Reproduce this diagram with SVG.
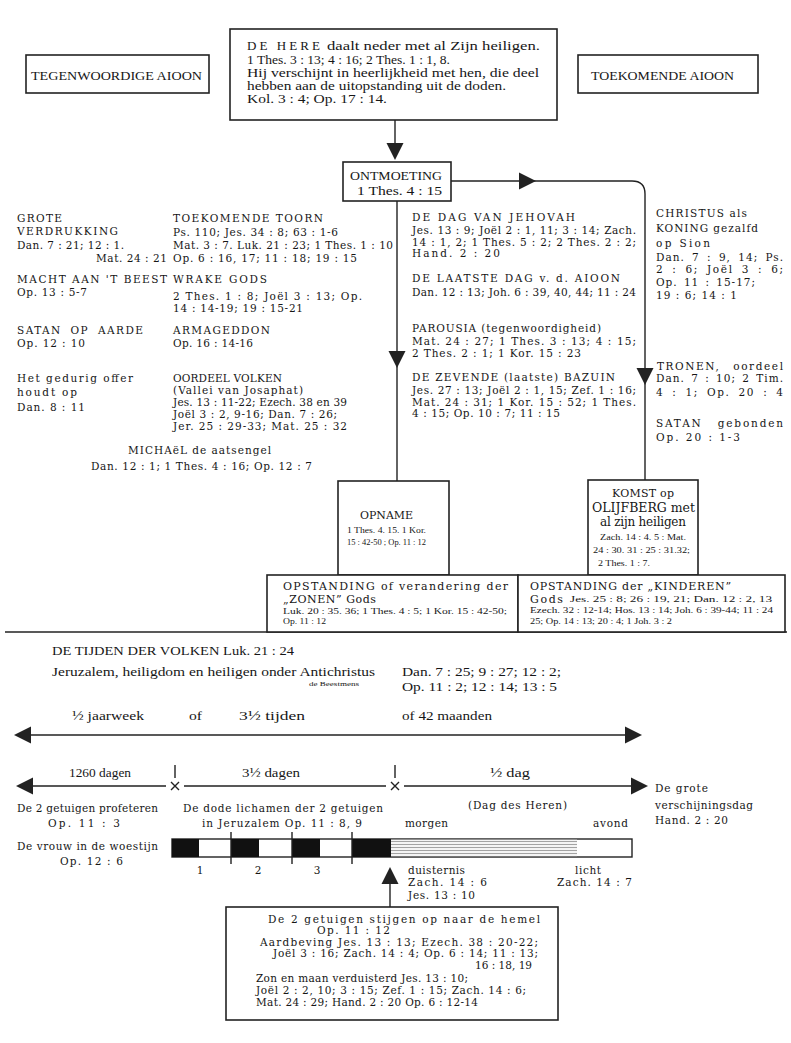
<svg xmlns="http://www.w3.org/2000/svg" xmlns:xlink="http://www.w3.org/1999/xlink" width="791" height="1043" viewBox="0 0 791 1043">
<defs>
<style>
.d{font-family:"DejaVu Serif","Liberation Serif",serif;font-size:10.5px;fill:#161616;dominant-baseline:central}
.r{font-family:"Liberation Serif","DejaVu Serif",serif;font-size:13px;fill:#161616;dominant-baseline:central}
.s{font-family:"Liberation Serif","DejaVu Serif",serif;font-size:8px;fill:#161616;dominant-baseline:central}
.l{font-family:"DejaVu Serif","Liberation Serif",serif;font-size:11px;fill:#161616;dominant-baseline:central}
.box{fill:#fff;stroke:#222;stroke-width:1.6}
.ln{fill:none;stroke:#222;stroke-width:1.4}
.ah{fill:#222}
.blk{fill:#111}
</style>
<path id="ar" d="M0,0 L-17,-8.5 L-17,8.5 Z"/>
<pattern id="hatch" width="8" height="3" patternUnits="userSpaceOnUse">
<rect width="8" height="3" fill="#f4f4f4"/>
<line x1="0" y1="1.5" x2="8" y2="1.5" stroke="#9a9a9a" stroke-width="0.9"/>
</pattern>
</defs>
<rect width="791" height="1043" fill="#fff"/>

<g id="connectors">
<path class="ln" d="M395,120 V158"/>
<use xlink:href="#ar" class="ah" transform="translate(395,160) rotate(90)"/>
<path class="ln" d="M451,181 H632 Q645,181 645,194 V480"/>
<use xlink:href="#ar" class="ah" transform="translate(536,181)"/>
<use xlink:href="#ar" class="ah" transform="translate(645,385) rotate(90)"/>
<path class="ln" d="M397,201 V481"/>
<use xlink:href="#ar" class="ah" transform="translate(397,368) rotate(90)"/>
<path class="ln" d="M5,632 H787"/>
<path class="ln" d="M390,907 V872"/>
<use xlink:href="#ar" class="ah" transform="translate(390,867) rotate(-90)"/>
</g>

<g id="box-tegenwoordige">
<rect class="box" x="26" y="55" width="183" height="38"/>
<text class="r" x="31" y="75" textLength="171" lengthAdjust="spacingAndGlyphs">TEGENWOORDIGE AIOON</text>
</g>
<g id="box-toekomende">
<rect class="box" x="578" y="55" width="180" height="38"/>
<text class="r" x="591" y="75" textLength="143" lengthAdjust="spacingAndGlyphs">TOEKOMENDE AIOON</text>
</g>
<g id="box-de-here">
<rect class="box" x="230" y="29" width="327" height="91"/>
<text class="r" x="247" y="45" textLength="73" lengthAdjust="spacing">DE HERE</text>
<text class="r" x="327" y="45" textLength="213" lengthAdjust="spacingAndGlyphs">daalt neder met al Zijn heiligen.</text>
<text class="r" x="247" y="59" textLength="203" lengthAdjust="spacingAndGlyphs">1 Thes. 3 : 13; 4 : 16; 2 Thes. 1 : 1, 8.</text>
<text class="r" x="247" y="72" textLength="292" lengthAdjust="spacingAndGlyphs">Hij verschijnt in heerlijkheid met hen, die deel</text>
<text class="r" x="247" y="85" textLength="259" lengthAdjust="spacingAndGlyphs">hebben aan de uitopstanding uit de doden.</text>
<text class="r" x="247" y="98" textLength="140" lengthAdjust="spacingAndGlyphs">Kol. 3 : 4; Op. 17 : 14.</text>
</g>
<g id="box-ontmoeting">
<rect class="box" x="343" y="162" width="108" height="39"/>
<text class="r" x="350" y="175" textLength="92" lengthAdjust="spacingAndGlyphs">ONTMOETING</text>
<text class="r" x="357" y="190" textLength="85" lengthAdjust="spacingAndGlyphs">1 Thes. 4 : 15</text>
</g>

<g id="grote-verdrukking">
<text class="d" x="17" y="218" textLength="45" lengthAdjust="spacing">GROTE</text>
<text class="d" x="17" y="231" textLength="101" lengthAdjust="spacing">VERDRUKKING</text>
<text class="d" x="17" y="245" textLength="107" lengthAdjust="spacing">Dan. 7 : 21; 12 : 1.</text>
<text class="d" x="96" y="258" textLength="71" lengthAdjust="spacing">Mat. 24 : 21</text>
</g>
<g id="macht-beest">
<text class="d" x="17" y="279" textLength="150" lengthAdjust="spacing">MACHT AAN 'T BEEST</text>
<text class="d" x="17" y="292" textLength="70" lengthAdjust="spacing">Op. 13 : 5-7</text>
</g>
<g id="satan-aarde">
<text class="d" x="17" y="330" textLength="126" lengthAdjust="spacing" style="word-spacing:4px">SATAN OP AARDE</text>
<text class="d" x="17" y="343" textLength="68" lengthAdjust="spacing">Op. 12 : 10</text>
</g>
<g id="gedurig-offer">
<text class="d" x="17" y="378" textLength="116" lengthAdjust="spacing">Het gedurig offer</text>
<text class="d" x="17" y="392" textLength="60" lengthAdjust="spacing">houdt op</text>
<text class="d" x="17" y="407" textLength="68" lengthAdjust="spacing">Dan. 8 : 11</text>
</g>

<g id="toekomende-toorn">
<text class="d" x="173" y="218" textLength="150" lengthAdjust="spacing">TOEKOMENDE TOORN</text>
<text class="d" x="173" y="232" textLength="165" lengthAdjust="spacing">Ps. 110; Jes. 34 : 8; 63 : 1-6</text>
<text class="d" x="173" y="245" textLength="220" lengthAdjust="spacing">Mat. 3 : 7. Luk. 21 : 23; 1 Thes. 1 : 10</text>
<text class="d" x="173" y="258" textLength="184" lengthAdjust="spacing">Op. 6 : 16, 17; 11 : 18; 19 : 15</text>
</g>
<g id="wrake-gods">
<text class="d" x="173" y="279" textLength="94" lengthAdjust="spacing">WRAKE GODS</text>
<text class="d" x="173" y="296" textLength="189" lengthAdjust="spacing">2 Thes. 1 : 8; Joël 3 : 13; Op.</text>
<text class="d" x="173" y="308" textLength="130" lengthAdjust="spacing">14 : 14-19; 19 : 15-21</text>
</g>
<g id="armageddon">
<text class="d" x="173" y="330" textLength="97" lengthAdjust="spacing">ARMAGEDDON</text>
<text class="d" x="173" y="343" textLength="80" lengthAdjust="spacing">Op. 16 : 14-16</text>
</g>
<g id="oordeel-volken">
<text class="d" x="173" y="378" textLength="109" lengthAdjust="spacing">OORDEEL VOLKEN</text>
<text class="d" x="173" y="390" textLength="130" lengthAdjust="spacing">(Vallei van Josaphat)</text>
<text class="d" x="173" y="402" textLength="174" lengthAdjust="spacing">Jes. 13 : 11-22; Ezech. 38 en 39</text>
<text class="d" x="173" y="414" textLength="164" lengthAdjust="spacing">Joël 3 : 2, 9-16; Dan. 7 : 26;</text>
<text class="d" x="173" y="426" textLength="174" lengthAdjust="spacing">Jer. 25 : 29-33; Mat. 25 : 32</text>
</g>
<g id="michael">
<text class="d" x="128" y="450" textLength="143" lengthAdjust="spacing">MICHAëL de aatsengel</text>
<text class="d" x="91" y="466" textLength="221" lengthAdjust="spacing">Dan. 12 : 1; 1 Thes. 4 : 16; Op. 12 : 7</text>
</g>

<g id="dag-jehovah">
<text class="d" x="412" y="217" textLength="163" lengthAdjust="spacing">DE DAG VAN JEHOVAH</text>
<text class="d" x="412" y="230" textLength="224" lengthAdjust="spacing">Jes. 13 : 9; Joël 2 : 1, 11; 3 : 14; Zach.</text>
<text class="d" x="412" y="242" textLength="224" lengthAdjust="spacing">14 : 1, 2; 1 Thes. 5 : 2; 2 Thes. 2 : 2;</text>
<text class="d" x="412" y="253" textLength="88" lengthAdjust="spacing">Hand. 2 : 20</text>
</g>
<g id="laatste-dag">
<text class="d" x="412" y="278" textLength="208" lengthAdjust="spacing">DE LAATSTE DAG v. d. AIOON</text>
<text class="d" x="412" y="292" textLength="224" lengthAdjust="spacing">Dan. 12 : 13; Joh. 6 : 39, 40, 44; 11 : 24</text>
</g>
<g id="parousia">
<text class="d" x="412" y="328" textLength="189" lengthAdjust="spacing">PAROUSIA (tegenwoordigheid)</text>
<text class="d" x="412" y="341" textLength="224" lengthAdjust="spacing">Mat. 24 : 27; 1 Thes. 3 : 13; 4 : 15;</text>
<text class="d" x="412" y="353" textLength="169" lengthAdjust="spacing">2 Thes. 2 : 1; 1 Kor. 15 : 23</text>
</g>
<g id="zevende-bazuin">
<text class="d" x="412" y="377" textLength="203" lengthAdjust="spacing">DE ZEVENDE (laatste) BAZUIN</text>
<text class="d" x="412" y="390" textLength="224" lengthAdjust="spacing">Jes. 27 : 13; Joël 2 : 1, 15; Zef. 1 : 16;</text>
<text class="d" x="412" y="402" textLength="224" lengthAdjust="spacing">Mat. 24 : 31; 1 Kor. 15 : 52; 1 Thes.</text>
<text class="d" x="412" y="413" textLength="148" lengthAdjust="spacing">4 : 15; Op. 10 : 7; 11 : 15</text>
</g>

<g id="christus-koning">
<text class="d" x="656" y="213" textLength="91" lengthAdjust="spacing">CHRISTUS als</text>
<text class="d" x="656" y="228" textLength="102" lengthAdjust="spacing">KONING gezalfd</text>
<text class="d" x="656" y="243" textLength="54" lengthAdjust="spacing">op Sion</text>
<text class="d" x="656" y="257" textLength="127" lengthAdjust="spacing" style="word-spacing:3px">Dan. 7 : 9, 14; Ps.</text>
<text class="d" x="656" y="269" textLength="127" lengthAdjust="spacing" style="word-spacing:3px">2 : 6; Joël 3 : 6;</text>
<text class="d" x="656" y="282" textLength="99" lengthAdjust="spacing" style="word-spacing:2px">Op. 11 : 15-17;</text>
<text class="d" x="656" y="295" textLength="81" lengthAdjust="spacing">19 : 6; 14 : 1</text>
</g>
<g id="tronen">
<text class="d" x="657" y="366" textLength="126" lengthAdjust="spacing" style="word-spacing:8px">TRONEN, oordeel</text>
<text class="d" x="656" y="378" textLength="127" lengthAdjust="spacing" style="word-spacing:2px">Dan. 7 : 10; 2 Tim.</text>
<text class="d" x="656" y="392" textLength="127" lengthAdjust="spacing" style="word-spacing:3px">4 : 1; Op. 20 : 4</text>
</g>
<g id="satan-gebonden">
<text class="d" x="656" y="423" textLength="127" lengthAdjust="spacing" style="word-spacing:10px">SATAN gebonden</text>
<text class="d" x="656" y="437" textLength="84" lengthAdjust="spacing">Op. 20 : 1-3</text>
</g>

<g id="box-opname">
<rect class="box" x="338" y="481" width="111" height="94"/>
<text class="l" x="360" y="515" textLength="53" lengthAdjust="spacingAndGlyphs">OPNAME</text>
<text class="s" x="347" y="530" textLength="79" lengthAdjust="spacingAndGlyphs">1 Thes. 4. 15. 1 Kor.</text>
<text class="s" x="347" y="542" textLength="79" lengthAdjust="spacingAndGlyphs">15 : 42-50 ; Op. 11 : 12</text>
</g>
<g id="box-komst">
<rect class="box" x="588" y="480" width="110" height="95"/>
<text class="l" x="612" y="493" textLength="62" lengthAdjust="spacing">KOMST op</text>
<text class="l" x="592" y="508" textLength="103" lengthAdjust="spacingAndGlyphs" style="font-size:12px">OLIJFBERG met</text>
<text class="l" x="600" y="522" textLength="86" lengthAdjust="spacing" style="font-size:12px">al zijn heiligen</text>
<text class="s" x="600" y="537" textLength="86" lengthAdjust="spacingAndGlyphs">Zach. 14 : 4. 5 : Mat.</text>
<text class="s" x="593" y="550" textLength="97" lengthAdjust="spacingAndGlyphs">24 : 30. 31 : 25 : 31.32;</text>
<text class="s" x="598" y="563" textLength="52" lengthAdjust="spacingAndGlyphs">2 Thes. 1 : 7.</text>
</g>
<g id="box-opstanding-zonen">
<rect class="box" x="267" y="575" width="251" height="57"/>
<text class="l" x="283" y="586" textLength="225" lengthAdjust="spacing">OPSTANDING of verandering der</text>
<text class="l" x="283" y="599" textLength="93" lengthAdjust="spacing">„ZONEN” Gods</text>
<text class="s" x="283" y="611" textLength="224" lengthAdjust="spacingAndGlyphs">Luk. 20 : 35. 36; 1 Thes. 4 : 5; 1 Kor. 15 : 42-50;</text>
<text class="s" x="283" y="621" textLength="43" lengthAdjust="spacingAndGlyphs">Op. 11 : 12</text>
</g>
<g id="box-opstanding-kinderen">
<rect class="box" x="518" y="575" width="267" height="57"/>
<text class="l" x="530" y="586" textLength="201" lengthAdjust="spacing">OPSTANDING der „KINDEREN”</text>
<text class="l" x="530" y="599" textLength="33" lengthAdjust="spacing">Gods</text>
<text class="s" x="570" y="599" textLength="202" lengthAdjust="spacingAndGlyphs">Jes. 25 : 8; 26 : 19, 21; Dan. 12 : 2, 13</text>
<text class="s" x="530" y="610" textLength="243" lengthAdjust="spacingAndGlyphs">Ezech. 32 : 12-14; Hos. 13 : 14; Joh. 6 : 39-44; 11 : 24</text>
<text class="s" x="530" y="621" textLength="142" lengthAdjust="spacingAndGlyphs">25; Op. 14 : 13; 20 : 4; 1 Joh. 3 : 2</text>
</g>

<g id="tijden-der-volken">
<text class="r" x="52" y="650" textLength="242" lengthAdjust="spacingAndGlyphs">DE TIJDEN DER VOLKEN  Luk. 21 : 24</text>
<text class="r" x="52" y="671" textLength="323" lengthAdjust="spacingAndGlyphs">Jeruzalem, heiligdom en heiligen onder Antichristus</text>
<text class="s" x="309" y="684" textLength="50" lengthAdjust="spacingAndGlyphs" style="font-size:7px">de Beestmens</text>
<text class="r" x="402" y="671" textLength="159" lengthAdjust="spacingAndGlyphs">Dan. 7 : 25; 9 : 27; 12 : 2;</text>
<text class="r" x="402" y="686" textLength="155" lengthAdjust="spacingAndGlyphs">Op. 11 : 2; 12 : 14; 13 : 5</text>
</g>

<g id="timeline-jaarweek">
<text class="r" x="72" y="715" textLength="72" lengthAdjust="spacingAndGlyphs">½ jaarweek</text>
<text class="r" x="189" y="715" textLength="13" lengthAdjust="spacingAndGlyphs">of</text>
<text class="r" x="239" y="715" textLength="66" lengthAdjust="spacingAndGlyphs">3½ tijden</text>
<text class="r" x="402" y="715" textLength="90" lengthAdjust="spacingAndGlyphs">of 42 maanden</text>
<path class="ln" d="M30,735 H626"/>
<use xlink:href="#ar" class="ah" transform="translate(14,735) rotate(180)"/>
<use xlink:href="#ar" class="ah" transform="translate(642,735)"/>
</g>

<g id="timeline-dagen">
<text class="r" x="69" y="772" textLength="62" lengthAdjust="spacingAndGlyphs">1260 dagen</text>
<text class="r" x="242" y="772" textLength="58" lengthAdjust="spacingAndGlyphs">3½ dagen</text>
<text class="r" x="490" y="772" textLength="40" lengthAdjust="spacingAndGlyphs">½ dag</text>
<path class="ln" d="M175,765 V778 M395,765 V778"/>
<path class="ln" d="M32,786 H166 M184,786 H386 M404,786 H634"/>
<path class="ln" d="M171,782 L179,790 M179,782 L171,790 M391,782 L399,790 M399,782 L391,790"/>
<use xlink:href="#ar" class="ah" transform="translate(16,786) rotate(180)"/>
<use xlink:href="#ar" class="ah" transform="translate(648,786)"/>
</g>

<g id="getuigen-profeteren">
<text class="d" x="17" y="808" textLength="141" lengthAdjust="spacing">De 2 getuigen profeteren</text>
<text class="d" x="48" y="823" textLength="72" lengthAdjust="spacing">Op. 11 : 3</text>
</g>
<g id="vrouw-woestijn">
<text class="d" x="17" y="846" textLength="141" lengthAdjust="spacing">De vrouw in de woestijn</text>
<text class="d" x="60" y="861" textLength="63" lengthAdjust="spacing">Op. 12 : 6</text>
</g>
<g id="dode-lichamen">
<text class="d" x="183" y="808" textLength="200" lengthAdjust="spacing">De dode lichamen der 2 getuigen</text>
<text class="d" x="202" y="823" textLength="160" lengthAdjust="spacing">in Jeruzalem Op. 11 : 8, 9</text>
</g>
<g id="dag-des-heren">
<text class="d" x="468" y="805" textLength="99" lengthAdjust="spacing">(Dag des Heren)</text>
<text class="d" x="405" y="823" textLength="43" lengthAdjust="spacing">morgen</text>
<text class="d" x="593" y="823" textLength="35" lengthAdjust="spacing">avond</text>
</g>
<g id="grote-verschijningsdag">
<text class="d" x="655" y="788" textLength="53" lengthAdjust="spacing">De grote</text>
<text class="d" x="655" y="805" textLength="98" lengthAdjust="spacing">verschijningsdag</text>
<text class="d" x="655" y="820" textLength="73" lengthAdjust="spacing">Hand. 2 : 20</text>
</g>

<g id="week-bar">
<rect x="172" y="839" width="460" height="18" fill="#fff" stroke="#222" stroke-width="1.4"/>
<rect x="391" y="839.7" width="186" height="16.6" fill="url(#hatch)"/>
<rect class="blk" x="172" y="839" width="27" height="18"/>
<rect class="blk" x="231" y="839" width="28" height="18"/>
<rect class="blk" x="292" y="839" width="28" height="18"/>
<rect class="blk" x="352" y="839" width="39" height="18"/>
<path class="ln" d="M231,832 V864 M292,832 V864 M352,832 V864"/>
<text class="d" x="200" y="870" text-anchor="middle">1</text>
<text class="d" x="258" y="870" text-anchor="middle">2</text>
<text class="d" x="317" y="870" text-anchor="middle">3</text>
</g>
<g id="duisternis">
<text class="d" x="408" y="870" textLength="57" lengthAdjust="spacing">duisternis</text>
<text class="d" x="408" y="882" textLength="79" lengthAdjust="spacing">Zach. 14 : 6</text>
<text class="d" x="408" y="895" textLength="67" lengthAdjust="spacing">Jes. 13 : 10</text>
</g>
<g id="licht">
<text class="d" x="575" y="870" textLength="26" lengthAdjust="spacing">licht</text>
<text class="d" x="557" y="882" textLength="75" lengthAdjust="spacing">Zach. 14 : 7</text>
</g>

<g id="box-getuigen-hemel">
<rect class="box" x="226" y="907" width="332" height="113"/>
<text class="d" x="268" y="919" textLength="272" lengthAdjust="spacing">De 2 getuigen stijgen op naar de hemel</text>
<text class="d" x="317" y="930" textLength="73" lengthAdjust="spacing">Op. 11 : 12</text>
<text class="d" x="260" y="942" textLength="278" lengthAdjust="spacing">Aardbeving Jes. 13 : 13; Ezech. 38 : 20-22;</text>
<text class="d" x="273" y="953" textLength="265" lengthAdjust="spacing">Joël 3 : 16; Zach. 14 : 4; Op. 6 : 14; 11 : 13;</text>
<text class="d" x="475" y="965" textLength="57" lengthAdjust="spacing">16 : 18, 19</text>
<text class="d" x="256" y="978" textLength="212" lengthAdjust="spacing">Zon en maan verduisterd Jes. 13 : 10;</text>
<text class="d" x="256" y="990" textLength="270" lengthAdjust="spacing">Joël 2 : 2, 10; 3 : 15; Zef. 1 : 15; Zach. 14 : 6;</text>
<text class="d" x="256" y="1002" textLength="222" lengthAdjust="spacing">Mat. 24 : 29; Hand. 2 : 20 Op. 6 : 12-14</text>
</g>
</svg>
